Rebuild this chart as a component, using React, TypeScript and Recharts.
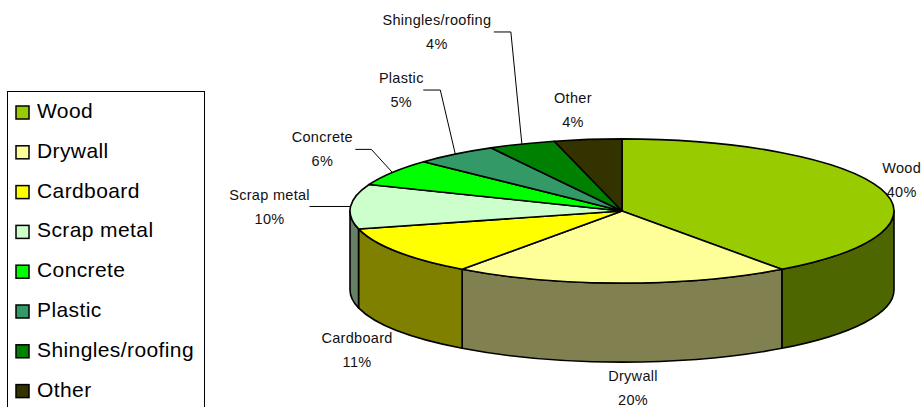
import { Cell, Legend, Pie, PieChart } from "recharts"

const categories = ["Wood", "Drywall", "Cardboard", "Scrap metal", "Concrete", "Plastic", "Shingles/roofing", "Other"]
const shares = [40, 20, 11, 10, 6, 5, 4, 4]

const topColors = ["#99CC00", "#FFFF99", "#FFFF00", "#CCFFCC", "#00FF00", "#339966", "#008000", "#333300"]
const sideColors = ["#4D6600", "#808050", "#808000", "#668066", "#008000", "#1A4D33", "#004000", "#1A1A00"]

const data = categories.map((name, i) => ({ name, value: shares[i] }))

const FONT = '"Liberation Sans", Arial, sans-serif'
const TILT = 0.265
const DEPTH = 79
const RAD = Math.PI / 180

// where each label sits, relative to the rim point at the slice's mid angle
const labelPlacement: { dx: number; dy: number; elbow?: [number, number]; lead?: number }[] = [
  { dx: 21, dy: -9 },
  { dx: 11, dy: 105 },
  { dx: -40, dy: 98 },
  { dx: -81, dy: 1, elbow: [0, 0], lead: 41 },
  { dx: -70, dy: -23, elbow: [-21, -23], lead: 16 },
  { dx: -54, dy: -64, elbow: [-15, -64], lead: 17 },
  { dx: -85, dy: -112, elbow: [-11, -112], lead: 17 },
  { dx: -15, dy: -29 },
]

const idxOf = (props: any) => {
  const name = props.name ?? props.payload?.name
  const i = categories.indexOf(name)
  return i >= 0 ? i : props.index ?? 0
}

const Slice3D = (props: any) => {
  const { cx, cy, outerRadius: rx, startAngle, endAngle, fill } = props
  const i = idxOf(props)
  const ry = rx * TILT
  const p = (a: number, d = 0) => `${cx + rx * Math.cos(a * RAD)},${cy - ry * Math.sin(a * RAD) + d}`
  const a0 = Math.max(startAngle, endAngle)
  const a1 = Math.min(startAngle, endAngle)
  const large = a0 - a1 > 180 ? 1 : 0
  const top = `M${cx},${cy} L${p(a0)} A${rx},${ry} 0 ${large} 1 ${p(a1)} Z`
  // only the front half of the rim gets a visible side wall
  const hi = Math.min(a0, 0)
  const lo = Math.max(a1, -180)
  const wall =
    hi > lo
      ? `M${p(hi)} A${rx},${ry} 0 0 1 ${p(lo)} L${p(lo, DEPTH)} A${rx},${ry} 0 0 0 ${p(hi, DEPTH)} Z`
      : null
  return (
    <g>
      {wall && <path d={wall} fill={sideColors[i]} stroke="#000" strokeWidth={1.6} strokeLinejoin="round" />}
      <path d={top} fill={fill} stroke="#000" strokeWidth={1.6} strokeLinejoin="round" />
    </g>
  )
}

const renderLabel = (props: any) => {
  const { cx, cy, midAngle, outerRadius: rx, name, value } = props
  const i = idxOf(props)
  const ry = rx * TILT
  const rimX = cx + rx * Math.cos(midAngle * RAD)
  const rimY = cy - ry * Math.sin(midAngle * RAD)
  const pl = labelPlacement[i]
  const lx = rimX + pl.dx
  const ly = rimY + pl.dy
  let leader = null
  if (pl.elbow) {
    const ex = rimX + pl.elbow[0]
    const ey = rimY + pl.elbow[1]
    leader = (
      <polyline
        points={`${ex - (pl.lead ?? 16)},${ey} ${ex},${ey} ${rimX},${rimY}`}
        fill="none"
        stroke="#000"
        strokeWidth={1}
      />
    )
  }
  const txt = { textAnchor: "middle" as const, dominantBaseline: "central" as const, fontSize: 14.5, fontFamily: FONT, fill: "#111", letterSpacing: 0.3 }
  return (
    <g key={name}>
      {leader}
      <text x={lx} y={ly - 12} {...txt}>
        {name}
      </text>
      <text x={lx} y={ly + 12} {...txt}>
        {`${value}%`}
      </text>
    </g>
  )
}

const LegendBox = () => (
  <svg width={199} height={330} style={{ display: "block" }}>
    <rect x={0.5} y={0.5} width={197} height={340} fill="#fff" stroke="#000" strokeWidth={1} />
    {categories.map((name, i) => {
      const c = 21.5 + i * 39.8
      return (
        <g key={name}>
          <rect x={9} y={c - 6.5} width={13} height={13} fill={topColors[i]} stroke="#000" strokeWidth={1.5} />
          <text x={30} y={c + 5.5} fontSize={21} fontFamily={FONT} fill="#000" letterSpacing={0.4}>
            {name}
          </text>
        </g>
      )
    })}
  </svg>
)

export default function App() {
  return (
    <div style={{ position: "absolute", left: 0, top: 0, width: 923, height: 407, background: "#fff" }}>
      <PieChart width={923} height={407} margin={{ top: 0, right: 0, bottom: 0, left: 0 }}>
        <Legend
          layout="vertical"
          align="center"
          verticalAlign="middle"
          wrapperStyle={{ left: 7, top: 91, width: 199, height: 330 }}
          content={LegendBox}
        />
        <Pie
          data={data}
          dataKey="value"
          nameKey="name"
          cx={622}
          cy={211}
          outerRadius={272}
          startAngle={90}
          endAngle={-270}
          stroke="#000"
          shape={Slice3D}
          activeShape={Slice3D}
          inactiveShape={Slice3D}
          label={renderLabel}
          labelLine={false}
          isAnimationActive={false}
        >
          {data.map((d, i) => (
            <Cell key={d.name} fill={topColors[i]} />
          ))}
        </Pie>
      </PieChart>
    </div>
  )
}
